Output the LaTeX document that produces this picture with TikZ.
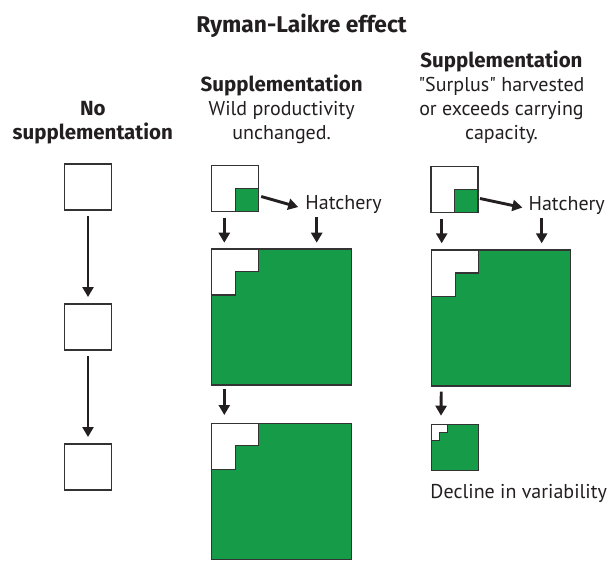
\documentclass[tikz,border=0pt]{standalone}
\usepackage{fontspec}
\setmainfont{PT Sans}
\newfontfamily\hdfont{Fira Sans}
\usetikzlibrary{arrows.meta}
\definecolor{fg}{HTML}{231F20}
\definecolor{grn}{RGB}{22,155,72}
\definecolor{edge}{HTML}{333333}
\newcommand{\hdtext}[1]{{\fontsize{20.5}{24}\selectfont\hdfont\bfseries #1}}
\begin{document}
\begin{tikzpicture}[x=1pt,y=-1pt,
  txt/.style={font=\fontsize{20}{24}\selectfont, text=fg, inner sep=0pt, align=center},
  ttl/.style={font=\fontsize{22.8}{26}\selectfont\hdfont\bfseries, text=fg, inner sep=0pt},
  box/.style={draw=edge, line width=1.3pt, fill=white, minimum width=47pt, minimum height=46pt, inner sep=0pt, outer sep=0pt},
  bigbox/.style={draw=edge, line width=1.3pt, fill=grn, minimum width=140pt, minimum height=136pt, inner sep=0pt, outer sep=0pt},
  quarter/.style={draw=edge, line width=1.3pt, fill=grn},
  corner/.style={draw=edge, line width=1.3pt, fill=white},
  arr/.style={draw=fg, line width=2.9pt, -{Triangle[length=10pt,width=11pt]}},
]
\useasboundingbox (0,0) rectangle (610,561);

% title and headings (anchor base = baseline of last line)
\node[ttl, anchor=base] (title) at (301.5,32.5) {Ryman-Laikre effect};
\node[txt, anchor=base, font=\fontsize{20.5}{24}\selectfont\hdfont\bfseries] (hl) at (92.8,140) {No\\supplementation};
\node[txt, anchor=base] (hm) at (281.7,139.5) {\hdtext{Supplementation}\\Wild productivity\\unchanged.};
\node[txt, anchor=base] (hr) at (501.5,139.5) {\hdtext{Supplementation}\\\textquotedbl Surplus\textquotedbl\ harvested\\or exceeds carrying\\capacity.};

% left column
\node[box] (l1) at (88,187) {};
\node[box] (l2) at (88,327) {};
\node[box] (l3) at (88,467) {};
\draw[arr, shorten <=6pt, shorten >=7pt] (l1.south) -- (l2.north);
\draw[arr, shorten <=6pt, shorten >=7pt] (l2.south) -- (l3.north);

% middle column
\node[box] (m0) at (235.2,188.5) {};
\fill[quarter] (m0.center) rectangle (m0.south east);
\node[txt, anchor=base] (hatm) at (343.5,210) {Hatchery};
\node[bigbox] (m1) at (281.7,317) {};
\draw[corner] (m1.north west) -- ++(47,0) -- ++(0,22.5) -- ++(-23.5,0) -- ++(0,23.5) -- ++(-23.5,0) -- cycle;
\node[bigbox] (m2) at (281.7,491.3) {};
\draw[corner] (m2.north west) -- ++(47,0) -- ++(0,22.5) -- ++(-23.5,0) -- ++(0,23.5) -- ++(-23.5,0) -- cycle;
\draw[arr] ([xshift=2.5pt,yshift=-8pt]m0.east) -- ([xshift=-7pt,yshift=-2pt]hatm.west);
\draw[arr, shorten <=6.2pt, shorten >=6.3pt] ([xshift=-10.9pt]m0.south) -- ([xshift=-10.9pt]m0.south |- m1.north);
\coordinate (mt) at ([xshift=105pt]m1.north west);
\draw[arr, shorten <=3pt, shorten >=6.3pt] (hatm.south -| mt) -- (mt);
\draw[arr, shorten <=4pt, shorten >=8.3pt] ([xshift=12.6pt]m1.south west) -- ([xshift=12.6pt]m2.north west);

% right column
\node[box] (r0) at (454.5,189.5) {};
\fill[quarter] (r0.center) rectangle (r0.south east);
\node[txt, anchor=base] (hatr) at (566.7,210.5) {Hatchery};
\node[bigbox, minimum width=139pt] (r1) at (501.2,318) {};
\draw[corner] (r1.north west) -- ++(47,0) -- ++(0,23) -- ++(-23.5,0) -- ++(0,23.5) -- ++(-23.5,0) -- cycle;
\node[box, fill=grn] (r2) at (454.8,447.2) {};
\draw[corner] (r2.north west) -- ++(16.4,0) -- ++(0,8) -- ++(-8,0) -- ++(0,8) -- ++(-8.4,0) -- cycle;
\node[txt, anchor=base] (dec) at (518.7,498) {Decline in variability};
\draw[arr] ([xshift=2pt,yshift=-9pt]r0.east) -- ([xshift=-6pt,yshift=-2pt]hatr.west);
\draw[arr, shorten <=6.8pt, shorten >=6.7pt] ([xshift=-12.8pt]r0.south) -- ([xshift=-12.8pt]r0.south |- r1.north);
\coordinate (rt) at ([xshift=110pt]r1.north west);
\draw[arr, shorten <=3pt, shorten >=6.7pt] (hatr.south -| rt) -- (rt);
\draw[arr, shorten <=5.7pt, shorten >=8.5pt] ([xshift=9.6pt]r1.south west) -- ([xshift=9.6pt]r2.north west);
\end{tikzpicture}
\end{document}
